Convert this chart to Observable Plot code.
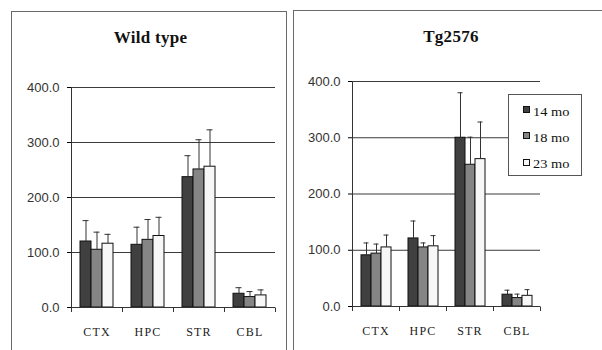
<!DOCTYPE html>
<html><head><meta charset="utf-8">
<script src="https://cdn.jsdelivr.net/npm/d3@7"></script>
<script src="https://cdn.jsdelivr.net/npm/@observablehq/plot@0.6"></script>
<style>
body{margin:0;background:#fff;}
#root{position:relative;width:602px;height:350px;overflow:hidden;background:#fff;}
.panel{position:absolute;border:1.5px solid #6a6a6a;box-sizing:border-box;}
.title{position:absolute;font-family:"Liberation Serif","Times New Roman",serif;font-weight:bold;font-size:17px;line-height:17px;text-align:center;white-space:nowrap;color:#111;letter-spacing:0.3px;}
.chart{position:absolute;top:0;}
.legend{position:absolute;border:1.5px solid #555;box-sizing:border-box;background:#fff;font-family:"Liberation Serif","Times New Roman",serif;font-size:12px;color:#111;}
.legend .sw{position:absolute;width:7px;height:7px;border:1px solid #111;box-sizing:border-box;}
.legend .lb{position:absolute;line-height:12px;white-space:nowrap;transform:scaleX(1.2);transform-origin:left center;font-family:"Liberation Serif","Times New Roman",serif;}
[aria-label^="fx-axis"]{font-family:"Liberation Serif","Times New Roman",serif;font-size:12px;letter-spacing:1.2px;fill:#222;}
[aria-label^="y-axis"]{font-family:"Liberation Sans",Arial,sans-serif;font-size:13px;fill:#333;}
</style></head>
<body>
<div id="root">
  <div class="panel" style="left:11px;top:10.5px;width:276px;height:400px;"></div>
  <div class="panel" style="left:293px;top:9.5px;width:330px;height:400px;"></div>
  <div class="title" style="left:100px;width:101px;top:29px;">Wild type</div>
  <div class="title" style="left:401px;width:100px;top:27.5px;">Tg2576</div>
  <div class="chart" id="left" style="left:0px;"></div>
  <div class="chart" id="right" style="left:300px;"></div>
  <div class="legend" id="legend" style="left:508px;top:94px;width:74px;height:82px;"></div>
</div>
<script>
const categories = ["CTX", "HPC", "STR", "CBL"];
const series = ["14 mo", "18 mo", "23 mo"];
const colors = ["#404040", "#858585", "#f7f7f7"];
const yTicks = [0, 100, 200, 300, 400];

// Wild type: means and upper error (SD) per series, in category order
const wt14 = [120, 114, 237, 25];
const wt18 = [105, 123, 251, 19];
const wt23 = [116, 130, 256, 22];
const wt14Err = [38, 32, 39, 11];
const wt18Err = [32, 37, 54, 10];
const wt23Err = [17, 34, 67, 10];

// Tg2576
const tg14 = [91, 121, 300, 21];
const tg18 = [94, 105, 252, 15];
const tg23 = [105, 107, 262, 19];
const tg14Err = [22, 31, 80, 8];
const tg18Err = [17, 8, 49, 7];
const tg23Err = [22, 19, 66, 11];

function rows(means, errs) {
  return categories.flatMap((c, i) => series.map((s, j) => ({cat: c, series: s, value: means[j][i], err: errs[j][i]})));
}

function chart(data, m, w) {
  const plot = Plot.plot({
    width: w, height: 350,
    marginLeft: m[0], marginRight: m[1], marginTop: m[2], marginBottom: m[3],
    style: {background: "transparent", overflow: "visible", fontFamily: "Liberation Sans, Arial, sans-serif"},
    facet: {data, x: "cat"},
    fx: {domain: categories, padding: 0, axis: "bottom", tickSize: 0, tickPadding: 20, label: null},
    x: {domain: series, paddingInner: 0, paddingOuter: 0.65, axis: null},
    y: {domain: [0, 400], ticks: yTicks, tickFormat: d => d.toFixed(1), tickSize: 4, tickPadding: 8, label: null},
    color: {domain: series, range: colors},
    marks: [
      Plot.ruleY([100, 200, 300, 400], {stroke: "#3a3a3a", strokeWidth: 1}),
      Plot.barY(data, {x: "series", y: "value", fill: "series", stroke: "#111", strokeWidth: 1}),
      Plot.ruleX(data, {x: "series", y1: "value", y2: d => d.value + d.err, stroke: "#333", strokeWidth: 1}),
      Plot.tickY(data, {x: "series", y: d => d.value + d.err, stroke: "#333", strokeWidth: 1, insetLeft: 2.5, insetRight: 2.5}),
      Plot.ruleY([0], {stroke: "#333", strokeWidth: 1})
    ]
  });
  // y-axis line and x-axis boundary ticks from the library scales
  const fx = plot.scale("fx"), y = plot.scale("y");
  const g = d3.select(plot).append("g").attr("stroke", "#333").attr("stroke-width", 1);
  const xs = categories.map(c => fx.apply(c)).concat([fx.apply(categories[categories.length - 1]) + fx.bandwidth]);
  const y0 = y.apply(0), yTop = y.apply(400);
  g.append("line").attr("x1", xs[0] + 0.5).attr("x2", xs[0] + 0.5).attr("y1", yTop).attr("y2", y0 + 0.5);
  xs.forEach(x => g.append("line").attr("x1", x + 0.5).attr("x2", x + 0.5).attr("y1", y0 + 0.5).attr("y2", y0 + 5));
  return plot;
}

document.getElementById("left").appendChild(chart(rows([wt14, wt18, wt23], [wt14Err, wt18Err, wt23Err]), [69, 24, 87, 43], 300));
document.getElementById("right").appendChild(chart(rows([tg14, tg18, tg23], [tg14Err, tg18Err, tg23Err]), [52, 62, 81, 44], 302));

const legend = document.getElementById("legend");
series.forEach((s, i) => {
  const sw = document.createElement("div");
  sw.className = "sw";
  sw.style.left = "13.5px"; sw.style.top = (11 + i * 26.3) + "px"; sw.style.background = colors[i];
  legend.appendChild(sw);
  const lb = document.createElement("div");
  lb.className = "lb";
  lb.style.left = "24px"; lb.style.top = (10.5 + i * 26.3) + "px";
  lb.textContent = s;
  legend.appendChild(lb);
});
</script>
</body></html>
